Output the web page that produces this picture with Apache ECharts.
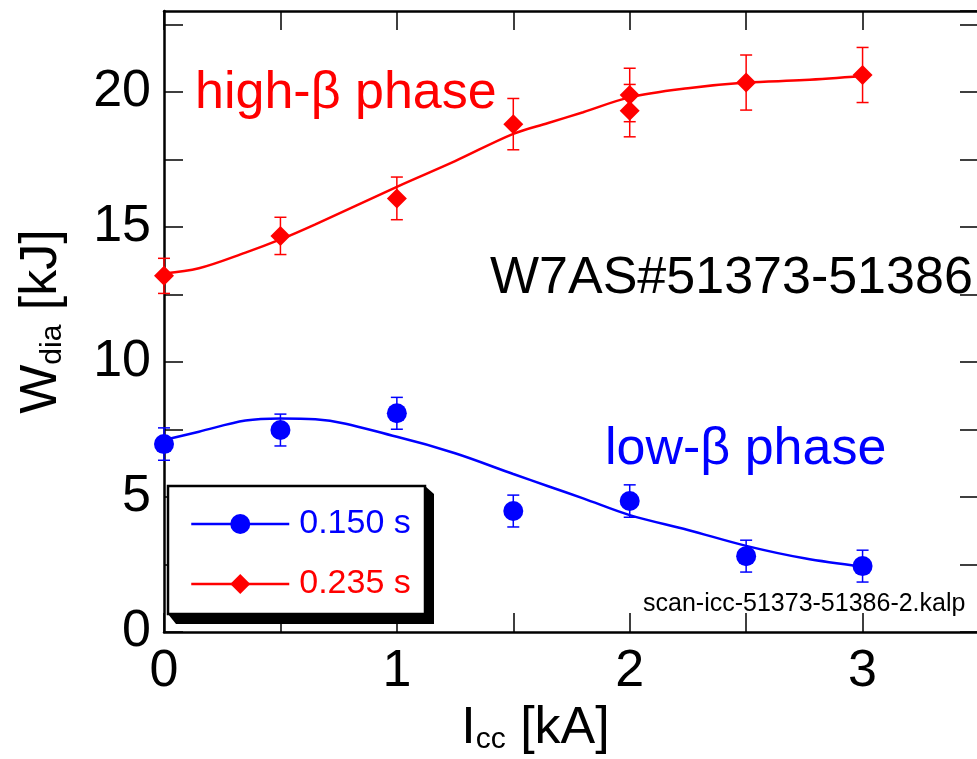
<!DOCTYPE html>
<html>
<head>
    <meta charset="utf-8" />
    <title>W7AS Icc scan</title>
    <style>
        html, body { margin: 0; padding: 0; background: #fff; }
        #chart { width: 977px; height: 759px; }
    </style>
</head>
<body>
    <div id="chart"></div>
    <script src="https://cdn.jsdelivr.net/npm/echarts@6/dist/echarts.min.js"></script>
    <script>
        // measured points (Icc in kA, Wdia in kJ)
        var iccLow = [0, 0.5, 1, 1.5, 2, 2.5, 3];
        var wLow = [6.96, 7.48, 8.10, 4.48, 4.85, 2.81, 2.44];
        var errLow = [0.60, 0.59, 0.59, 0.59, 0.60, 0.59, 0.59];

        var iccHigh = [0, 0.5, 1, 1.5, 2, 2, 2.5, 3];
        var wHigh = [13.19, 14.67, 16.06, 18.81, 19.89, 19.31, 20.35, 20.63];
        var errHigh = [0.65, 0.69, 0.79, 0.95, 0.99, 0.97, 1.02, 1.02];

        // fitted curves
        var iccFit = [0, 0.15, 0.35, 0.5, 0.65, 1.0, 1.25, 1.5, 1.65, 1.8, 2.0, 2.25, 2.5, 2.75, 3.0];
        var fitLow = [7.11, 7.42, 7.83, 7.91, 7.88, 7.23, 6.62, 5.85, 5.40, 4.95, 4.33, 3.78, 3.19, 2.73, 2.42];
        var fitHigh = [13.28, 13.47, 14.05, 14.54, 15.10, 16.49, 17.44, 18.45, 18.85, 19.25, 19.80, 20.14, 20.35, 20.44, 20.59];

        var seriesNames = ['0.150 s', '0.235 s'];
        var xTickLabels = ['0', '1', '2', '3'];
        var yTickLabels = ['0', '5', '10', '15', '20'];

        var BLUE = '#0000ff', RED = '#ff0000';
        var FONT = '"Liberation Sans", Arial, Helvetica, sans-serif';

        function pairs(xs, ys) {
            return xs.map(function (x, i) { return [x, ys[i]]; });
        }
        function errData(xs, ys, es) {
            return xs.map(function (x, i) { return [x, ys[i] - es[i], ys[i] + es[i]]; });
        }
        function errRender(color) {
            return function (params, api) {
                var lo = api.coord([api.value(0), api.value(1)]);
                var hi = api.coord([api.value(0), api.value(2)]);
                var w = 6;
                var st = { stroke: color, lineWidth: 1.5 };
                return {
                    type: 'group',
                    children: [
                        { type: 'line', shape: { x1: lo[0], y1: lo[1], x2: hi[0], y2: hi[1] }, style: st },
                        { type: 'line', shape: { x1: lo[0] - w, y1: lo[1], x2: lo[0] + w, y2: lo[1] }, style: st },
                        { type: 'line', shape: { x1: hi[0] - w, y1: hi[1], x2: hi[0] + w, y2: hi[1] }, style: st }
                    ]
                };
            };
        }

        var axisLine = { show: true, onZero: false, lineStyle: { color: '#000', width: 2.5 } };
        var axisTick = { show: true, inside: true, length: 19, lineStyle: { color: '#000', width: 1.5 } };

        var option = {
            backgroundColor: '#fff',
            animation: false,
            grid: { left: 164, top: 11, right: -2, bottom: 127, containLabel: false, outerBoundsMode: 'none' },
            legend: {
                orient: 'vertical',
                left: 190,
                top: 507,
                padding: 0,
                itemWidth: 98,
                itemHeight: 25,
                itemGap: 26,
                selectedMode: false,
                z: 60,
                lineStyle: { width: 2.5, opacity: 1 },
                textStyle: { fontFamily: FONT, fontSize: 34, lineHeight: 34, padding: [0, 0, 0, 5] },
                data: [
                    { name: seriesNames[0], textStyle: { color: BLUE } },
                    { name: seriesNames[1], textStyle: { color: RED } }
                ]
            },
            xAxis: [{
                type: 'value', min: 0, max: 3.5, interval: 0.5,
                axisLine: axisLine, axisTick: axisTick, splitLine: { show: false },
                axisLabel: {
                    fontFamily: FONT, fontSize: 52, color: '#000', margin: 14,
                    formatter: function (v) { return xTickLabels.indexOf(String(v)) >= 0 ? String(v) : ''; }
                },
                name: '{m|I}{s|cc}{m| [kA]}',
                nameLocation: 'middle',
                nameGap: 60,
                nameTextStyle: {
                    padding: [0, 72, 0, 0],
                    rich: {
                        m: { fontFamily: FONT, fontSize: 52, lineHeight: 52, color: '#000' },
                        s: { fontFamily: FONT, fontSize: 30, lineHeight: 14, verticalAlign: 'bottom', color: '#000' }
                    }
                }
            }, {
                type: 'value', position: 'top', min: 0, max: 3.5, interval: 0.5,
                axisLine: axisLine, axisTick: axisTick, axisLabel: { show: false }, splitLine: { show: false }
            }],
            yAxis: [{
                type: 'value', min: 0, max: 23, interval: 2.5,
                axisLine: axisLine, axisTick: axisTick, splitLine: { show: false },
                axisLabel: {
                    fontFamily: FONT, fontSize: 52, color: '#000', margin: 13,
                    showMaxLabel: false,
                    formatter: function (v) { return yTickLabels.indexOf(String(v)) >= 0 ? String(v) : ''; }
                },
                name: '{m|W}{s|dia}{m| [kJ]}',
                nameLocation: 'middle',
                nameGap: 96,
                nameTextStyle: {
                    rich: {
                        m: { fontFamily: FONT, fontSize: 52, lineHeight: 52, color: '#000' },
                        s: { fontFamily: FONT, fontSize: 30, lineHeight: 14, verticalAlign: 'bottom', color: '#000' }
                    }
                }
            }, {
                type: 'value', position: 'right', min: 0, max: 23, interval: 2.5,
                axisLine: axisLine, axisTick: axisTick, axisLabel: { show: false }, splitLine: { show: false }
            }],
            graphic: [
                {
                    type: 'polygon', z: 50,
                    shape: { points: [[168, 614], [176, 624], [434, 624], [434, 494], [425, 486], [425, 614]] },
                    style: { fill: '#000' }
                },
                {
                    type: 'rect', z: 51,
                    shape: { x: 168, y: 486, width: 257, height: 128 },
                    style: { fill: '#fff', stroke: '#000', lineWidth: 2.5 }
                },
                {
                    type: 'text', z: 50, x: 195, y: 94,
                    style: { text: 'high-β phase', font: '52px ' + FONT, fill: RED, verticalAlign: 'middle' }
                },
                {
                    type: 'text', z: 50, x: 605, y: 450,
                    style: { text: 'low-β phase', font: '52px ' + FONT, fill: BLUE, verticalAlign: 'middle' }
                },
                {
                    type: 'text', z: 50, x: 490, y: 279,
                    style: { text: 'W7AS#51373-51386', font: '52px ' + FONT, fill: '#000', verticalAlign: 'middle' }
                },
                {
                    type: 'text', z: 50, x: 643, y: 604,
                    style: { text: 'scan-icc-51373-51386-2.kalp', font: '25px ' + FONT, fill: '#000', verticalAlign: 'middle' }
                }
            ],
            series: [
                {
                    type: 'custom', renderItem: errRender(BLUE), clip: false, z: 3,
                    data: errData(iccLow, wLow, errLow)
                },
                {
                    type: 'custom', renderItem: errRender(RED), clip: false, z: 3,
                    data: errData(iccHigh, wHigh, errHigh)
                },
                {
                    name: 'fitLow', type: 'line', smooth: 0.35, symbol: 'none', clip: false, z: 4,
                    lineStyle: { color: BLUE, width: 2.5 }, itemStyle: { color: BLUE },
                    data: pairs(iccFit, fitLow)
                },
                {
                    name: 'fitHigh', type: 'line', smooth: 0.35, symbol: 'none', clip: false, z: 4,
                    lineStyle: { color: RED, width: 2.5 }, itemStyle: { color: RED },
                    data: pairs(iccFit, fitHigh)
                },
                {
                    name: seriesNames[0], type: 'line', symbol: 'circle', symbolSize: 20, clip: false, z: 5,
                    itemStyle: { color: BLUE }, lineStyle: { color: BLUE, width: 0, opacity: 0 },
                    data: pairs(iccLow, wLow)
                },
                {
                    name: seriesNames[1], type: 'line', symbol: 'diamond', symbolSize: 20, clip: false, z: 5,
                    itemStyle: { color: RED }, lineStyle: { color: RED, width: 0, opacity: 0 },
                    data: pairs(iccHigh, wHigh)
                }
            ]
        };

        var chart = echarts.init(document.getElementById('chart'));
        chart.setOption(option);
    </script>
</body>
</html>
